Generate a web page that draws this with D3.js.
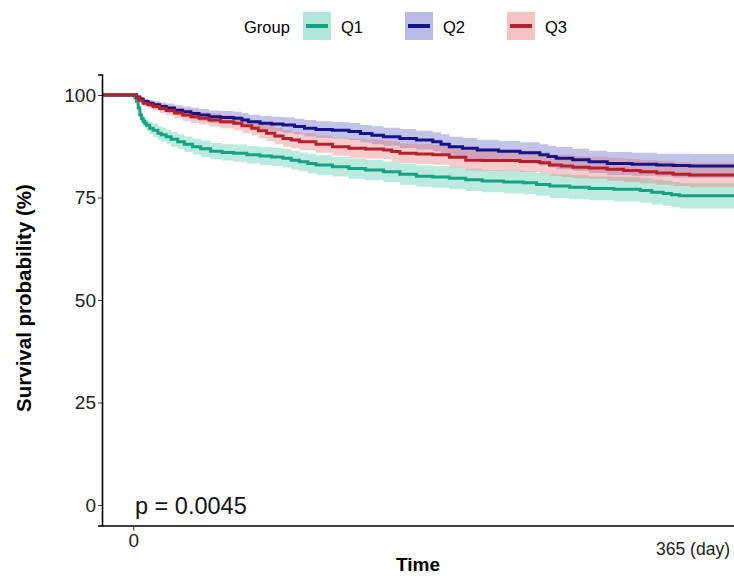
<!DOCTYPE html>
<html>
<head>
<meta charset="UTF-8">
<title>Survival</title>
<script src="https://cdn.jsdelivr.net/npm/d3@7/dist/d3.min.js"></script>
<style>
  body { margin: 0; background: #fff; }
  text { font-family: "Liberation Sans", Arial, sans-serif; }
</style>
</head>
<body>
<div id="chart"></div>
<script>
// data (time in days, survival in %, half width of the 95% band)
var groups = ["Q1", "Q2", "Q3"];
var colors = ["#17a283", "#141488", "#b7202a"];
var bandColors = ["#3cc4a2", "#5252c0", "#e56a6a"];

var q1Days = [0, 1, 2, 3, 4, 5, 6, 7, 8, 10, 12, 15, 17, 20, 23, 27, 31, 36, 41, 47, 54, 61, 69, 77, 84, 91, 96, 101, 106, 111,
              121, 131, 141, 152, 162, 172, 182, 192, 202, 212, 225, 237, 245, 253, 265, 277, 292, 308, 315, 322, 327, 332, 365];
var q1Surv = [100, 99.3, 98.4, 96.8, 95.1, 94.2, 93.6, 93.1, 92.6, 91.9, 91.4, 90.7, 90.3, 89.8, 89.2, 88.6, 88.0, 87.4, 86.9, 86.3,
              86.0, 85.8, 85.4, 85.1, 84.9, 84.6, 84.1, 83.7, 83.3, 82.9, 82.5, 82.1, 81.7, 81.3, 80.7, 80.2, 80.0, 79.7, 79.3, 79.0,
              78.8, 78.6, 78.2, 77.8, 77.5, 77.2, 77.0, 76.7, 76.3, 76.0, 75.7, 75.4, 75.4];
var q1Half = [0, 0.4, 0.6, 0.9, 1.1, 1.2, 1.3, 1.3, 1.4, 1.5, 1.6, 1.7, 1.7, 1.7, 1.8, 1.8, 1.9, 1.9, 2.0, 2.0,
              2.0, 2.1, 2.1, 2.2, 2.2, 2.3, 2.3, 2.3, 2.4, 2.4, 2.4, 2.5, 2.5, 2.5, 2.6, 2.6, 2.6, 2.7, 2.7, 2.7,
              2.8, 2.8, 2.8, 2.9, 2.9, 2.9, 3.0, 3.0, 3.0, 3.0, 3.1, 3.1, 3.1];

var q2Days = [0, 2, 4, 6, 9, 12, 16, 20, 25, 30, 35, 40, 46, 53, 61, 66, 70, 77, 84, 91, 98, 104, 111, 121, 131, 138, 145, 152,
              162, 172, 182, 187, 192, 200, 209, 222, 235, 247, 252, 257, 267, 277, 288, 303, 318, 328, 338, 365];
var q2Surv = [100, 99.5, 99.0, 98.4, 98.0, 97.6, 97.2, 96.8, 96.3, 95.9, 95.5, 95.1, 94.7, 94.5, 94.3, 93.9, 93.5, 93.1, 92.9, 92.7,
              92.3, 91.9, 91.6, 91.4, 91.1, 90.6, 90.2, 89.8, 89.4, 89.0, 88.6, 88.0, 87.4, 87.0, 86.6, 86.3, 85.9, 85.4, 85.0, 84.6,
              84.2, 83.7, 83.3, 83.1, 82.9, 82.8, 82.7, 82.7];
var q2Half = [0, 0.4, 0.6, 0.7, 0.8, 0.9, 1.0, 1.1, 1.2, 1.3, 1.4, 1.5, 1.5, 1.6, 1.6, 1.7, 1.7, 1.8, 1.8, 1.9,
              1.9, 2.0, 2.0, 2.0, 2.1, 2.1, 2.2, 2.2, 2.3, 2.3, 2.3, 2.4, 2.4, 2.5, 2.5, 2.5, 2.6, 2.6, 2.6, 2.7,
              2.7, 2.7, 2.8, 2.8, 2.8, 2.9, 2.9, 2.9];

var q3Days = [0, 2, 4, 6, 9, 12, 16, 20, 25, 30, 35, 40, 46, 53, 61, 66, 72, 76, 81, 86, 91, 96, 101, 111, 121, 131, 141, 152,
              157, 162, 172, 182, 192, 202, 212, 222, 235, 247, 253, 260, 267, 277, 288, 298, 308, 318, 328, 338, 365];
var q3Surv = [100, 99.3, 98.7, 98.0, 97.6, 97.2, 96.7, 96.2, 95.6, 95.1, 94.7, 94.3, 93.9, 93.5, 93.1, 92.5, 91.9, 91.3, 90.7, 90.0,
              89.4, 89.0, 88.6, 88.0, 87.4, 87.0, 86.8, 86.6, 86.2, 85.8, 85.6, 85.4, 84.8, 84.1, 84.05, 84.0, 83.8, 83.5, 82.9, 82.7,
              82.4, 82.2, 81.9, 81.6, 81.3, 81.0, 80.7, 80.5, 80.5];
var q3Half = [0, 0.4, 0.6, 0.8, 0.9, 1.0, 1.1, 1.2, 1.3, 1.4, 1.5, 1.5, 1.6, 1.7, 1.7, 1.8, 1.8, 1.9, 1.9, 2.0,
              2.0, 2.0, 2.1, 2.1, 2.2, 2.3, 2.3, 2.3, 2.4, 2.4, 2.4, 2.4, 2.5, 2.5, 2.5, 2.5, 2.6, 2.6, 2.6, 2.7,
              2.7, 2.7, 2.8, 2.8, 2.8, 2.9, 2.9, 3.0, 3.0];

var yTicks = [0, 25, 50, 75, 100];
var pText = "p = 0.0045";

var width = 734, height = 576;
var svg = d3.select("#chart").append("svg")
    .attr("width", width)
    .attr("height", height);

var x = d3.scaleLinear().domain([-19, 365]).range([102, 734]);
var y = d3.scaleLinear().domain([-5, 105]).range([525.5, 74.5]);

function series(days, surv, half) {
    var out = [{t: x.domain()[0], s: 100, lo: 100, hi: 100}];
    days.forEach(function(d, i) {
        out.push({t: d, s: surv[i], lo: surv[i] - half[i], hi: Math.min(100, surv[i] + half[i])});
    });
    return out;
}
var allData = [
    series(q1Days, q1Surv, q1Half),
    series(q2Days, q2Surv, q2Half),
    series(q3Days, q3Surv, q3Half)
];

var band = d3.area()
    .curve(d3.curveStepAfter)
    .x(function(d) { return x(d.t); })
    .y0(function(d) { return y(d.lo); })
    .y1(function(d) { return y(d.hi); });

var line = d3.line()
    .curve(d3.curveStepAfter)
    .x(function(d) { return x(d.t); })
    .y(function(d) { return y(d.s); });

// bands
allData.forEach(function(d, i) {
    svg.append("path")
        .attr("d", band(d))
        .attr("fill", bandColors[i])
        .attr("fill-opacity", 0.35);
});
// lines
allData.forEach(function(d, i) {
    svg.append("path")
        .attr("d", line(d))
        .attr("fill", "none")
        .attr("stroke", colors[i])
        .attr("stroke-width", 3);
});

// axes
var yAxis = svg.append("g")
    .attr("transform", "translate(" + x.range()[0] + ",0)")
    .call(d3.axisLeft(y).tickValues(yTicks).tickSize(4).tickPadding(2));
yAxis.select(".domain").attr("stroke", "#000").attr("stroke-width", 1.6);
yAxis.selectAll(".tick line").attr("stroke", "#333");
yAxis.selectAll(".tick text").attr("font-size", 19).attr("fill", "#222")
    .style("font-family", "'Liberation Sans', Arial, sans-serif");

var xAxis = svg.append("g")
    .attr("transform", "translate(0," + y.range()[0] + ")")
    .call(d3.axisBottom(x).tickValues([0]).tickSize(5).tickPadding(3).tickSizeOuter(0));
xAxis.select(".domain").attr("stroke", "#000").attr("stroke-width", 1.6);
xAxis.selectAll(".tick line").attr("stroke", "#333");
xAxis.selectAll(".tick text").attr("font-size", 19).attr("fill", "#222")
    .style("font-family", "'Liberation Sans', Arial, sans-serif");

svg.append("text")
    .attr("x", x(365) - 4)
    .attr("y", 555)
    .attr("text-anchor", "end")
    .attr("font-size", 17.5)
    .attr("fill", "#222")
    .text("365 (day)");

// titles
svg.append("text")
    .attr("x", 418)
    .attr("y", 571)
    .attr("text-anchor", "middle")
    .attr("font-size", 19)
    .attr("font-weight", "bold")
    .text("Time");

svg.append("text")
    .attr("transform", "translate(31,298) rotate(-90)")
    .attr("text-anchor", "middle")
    .attr("font-size", 20.5)
    .attr("font-weight", "bold")
    .text("Survival probability (%)");

svg.append("text")
    .attr("x", 135)
    .attr("y", 514)
    .attr("font-size", 23.5)
    .attr("fill", "#111")
    .text(pText);

// legend
var legend = svg.append("g").attr("class", "legend");
legend.append("text")
    .attr("x", 244)
    .attr("y", 33)
    .attr("font-size", 16.5)
    .text("Group");
var keyX = [303, 405, 507];
groups.forEach(function(g, i) {
    legend.append("rect")
        .attr("x", keyX[i]).attr("y", 12)
        .attr("width", 28).attr("height", 28)
        .attr("fill", bandColors[i])
        .attr("fill-opacity", 0.4);
    legend.append("line")
        .attr("x1", keyX[i] + 3).attr("x2", keyX[i] + 25)
        .attr("y1", 26).attr("y2", 26)
        .attr("stroke", colors[i])
        .attr("stroke-width", 4);
    legend.append("text")
        .attr("x", keyX[i] + 38)
        .attr("y", 33)
        .attr("font-size", 16.5)
        .text(g);
});
</script>
</body>
</html>
